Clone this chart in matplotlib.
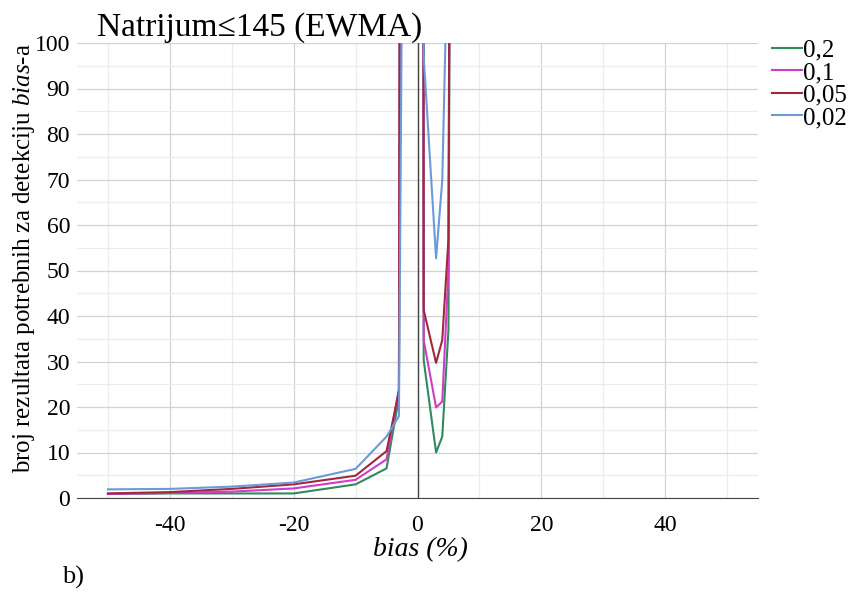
import matplotlib.pyplot as plt
from matplotlib.ticker import MultipleLocator

plt.rcParams['font.family'] = ['Liberation Serif', 'DejaVu Serif']
plt.rcParams['mathtext.fontset'] = 'custom'
plt.rcParams['mathtext.rm'] = 'Liberation Serif'
plt.rcParams['mathtext.it'] = 'Liberation Serif:italic'
plt.rcParams['axes.unicode_minus'] = False

# bias (%) values and number of results needed for detection
bias = [-50, -40, -30, -20, -10, -5, -3, 0, 1, 3, 4, 5, 10]
l_02 = [0.9, 1.0, 1.0, 1.0, 3.0, 6.5, 22, 2000, 30.3, 10.0, 13.5, 37, 2000]
l_01 = [0.9, 1.1, 1.4, 2.1, 4.0, 8.5, 24, 2000, 34.7, 19.9, 21.2, 50, 2000]
l_005 = [1.0, 1.3, 2.0, 3.0, 4.9, 10.3, 23.5, 2000, 41.3, 29.7, 34.7, 57, 2000]
l_002 = [1.9, 2.0, 2.5, 3.4, 6.4, 13.5, 18, 600, 97, 52.7, 69.8, 130, 2000]

labels = ['0,2', '0,1', '0,05', '0,02']
colors = ['#2f8a5c', '#d03cc8', '#a0283c', '#6a9ad8']

fig = plt.figure(figsize=(8.58, 5.92), dpi=100)
ax = fig.add_axes([77 / 858, 1 - 498 / 592, (758 - 77) / 858, (498 - 43) / 592])

for ys, lab, c in zip([l_02, l_01, l_005, l_002], labels, colors):
    ax.plot(bias, ys, color=c, lw=1.5, label=lab)

ax.set_xlim(-55, 55)
ax.set_ylim(0, 100)
ax.xaxis.set_major_locator(MultipleLocator(20))
ax.xaxis.set_minor_locator(MultipleLocator(10))
ax.yaxis.set_major_locator(MultipleLocator(10))
ax.yaxis.set_minor_locator(MultipleLocator(5))
ax.grid(which='major', color='#d2d2d2', lw=0.9)
ax.grid(which='minor', color='#ececec', lw=0.9)
ax.set_axisbelow(True)
ax.axvline(0, color='#444444', lw=1)

for s in ['top', 'right', 'left']:
    ax.spines[s].set_visible(False)
ax.spines['bottom'].set_color('#444444')
ax.tick_params(which='both', length=0, labelsize=17, pad=5)
ax.tick_params(axis='x', pad=12)

fig.text(97 / 858, 1 - 36 / 592, 'Natrijum≤145 (EWMA)', fontsize=24, va='baseline')
fig.text(24 / 858, 1 - 258 / 592, r'broj rezultata potrebnih za detekciju $\mathit{bias}$-a',
         rotation=90, fontsize=18, ha='center', va='center')
fig.text(420 / 858, 1 - 550 / 592, 'bias (%)', fontsize=20, style='italic',
         ha='center', va='center')
fig.text(62 / 858, 1 - 577 / 592, 'b)', fontsize=19, ha='left', va='center')

ax.legend(loc='upper left', bbox_to_anchor=(772 / 858, 1 - 39 / 592),
          bbox_transform=fig.transFigure, frameon=False, fontsize=18,
          handlelength=1.2, handletextpad=0.05, labelspacing=0.0,
          borderpad=0, borderaxespad=0)

plt.savefig('out.png', dpi=100)
